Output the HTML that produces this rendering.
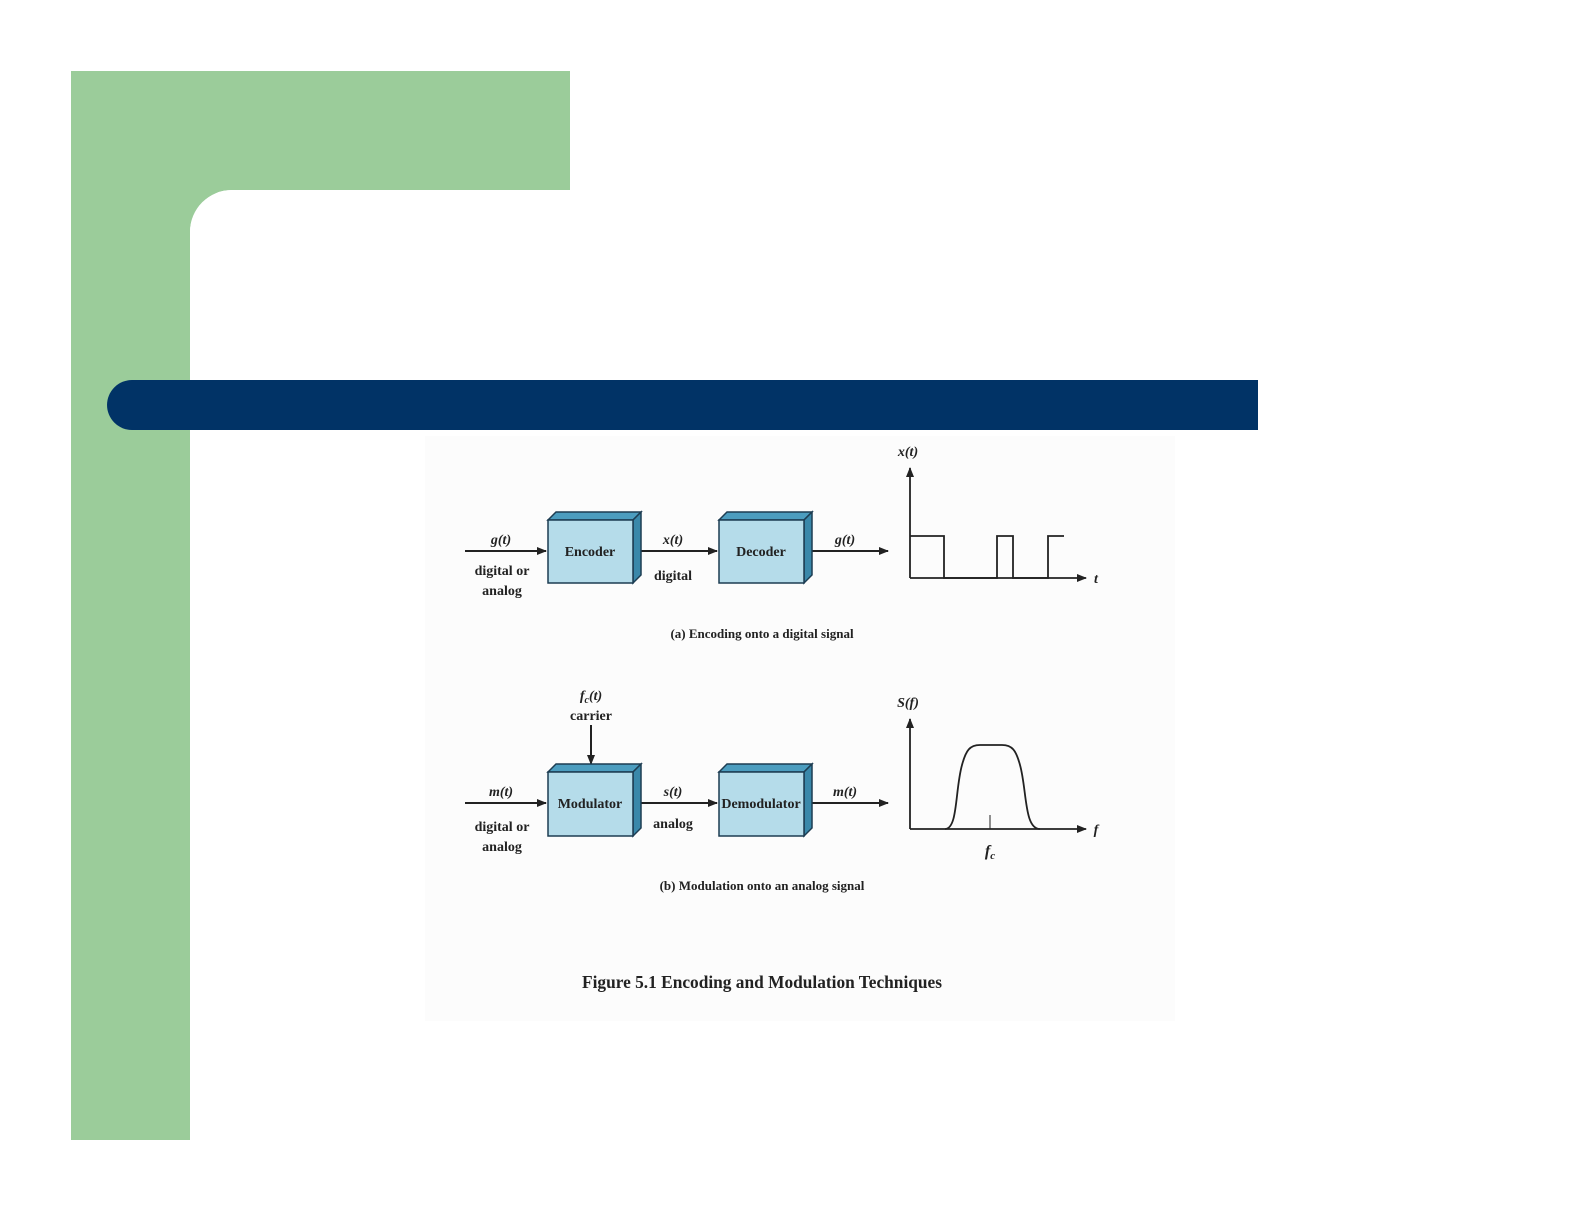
<!DOCTYPE html>
<html><head><meta charset="utf-8"><style>
html,body{margin:0;padding:0;background:#fff;}
svg{display:block;}
text{font-family:"Liberation Serif",serif;font-weight:bold;fill:#222;}
</style></head><body>
<svg width="1585" height="1225" viewBox="0 0 1585 1225" xmlns="http://www.w3.org/2000/svg">
<defs>
<marker id="ah" markerWidth="10" markerHeight="8" refX="9" refY="4" orient="auto" markerUnits="userSpaceOnUse">
<path d="M0,0 L10,4 L0,8 Z" fill="#222"/></marker>
</defs>
<rect x="71" y="71" width="499" height="119" fill="#9bcc9a"/>
<rect x="71" y="71" width="119" height="1069" fill="#9bcc9a"/>
<path d="M190,190 L232,190 A42,42 0 0 0 190,232 Z" fill="#9bcc9a"/>
<path d="M232,190 A42,42 0 0 0 190,232 L190,240 L240,240 L240,190 Z" fill="#fff"/>
<path d="M132,380 L1258,380 L1258,430 L132,430 A25,25 0 0 1 132,380 Z" fill="#013366"/>
<rect x="425" y="436" width="750" height="585" fill="#fcfcfc"/>

<g stroke="#222" stroke-width="2" fill="none">
<line x1="465" y1="551" x2="546" y2="551" marker-end="url(#ah)"/>
<line x1="641" y1="551" x2="717" y2="551" marker-end="url(#ah)"/>
<line x1="812" y1="551" x2="888" y2="551" marker-end="url(#ah)"/>
<line x1="465" y1="803" x2="546" y2="803" marker-end="url(#ah)"/>
<line x1="641" y1="803" x2="717" y2="803" marker-end="url(#ah)"/>
<line x1="812" y1="803" x2="888" y2="803" marker-end="url(#ah)"/>
<line x1="591" y1="725" x2="591" y2="764" marker-end="url(#ah)"/>
</g>

<g stroke="#1d3d52" stroke-width="1.5">
<g>
<polygon points="548,520 556,512 641,512 633,520" fill="#4c9dbf"/>
<polygon points="633,520 641,512 641,575 633,583" fill="#3a88aa"/>
<rect x="548" y="520" width="85" height="63" fill="#b5dcea"/>
</g>
<g>
<polygon points="719,520 727,512 812,512 804,520" fill="#4c9dbf"/>
<polygon points="804,520 812,512 812,575 804,583" fill="#3a88aa"/>
<rect x="719" y="520" width="85" height="63" fill="#b5dcea"/>
</g>
<g>
<polygon points="548,772 556,764 641,764 633,772" fill="#4c9dbf"/>
<polygon points="633,772 641,764 641,828 633,836" fill="#3a88aa"/>
<rect x="548" y="772" width="85" height="64" fill="#b5dcea"/>
</g>
<g>
<polygon points="719,772 727,764 812,764 804,772" fill="#4c9dbf"/>
<polygon points="804,772 812,764 812,828 804,836" fill="#3a88aa"/>
<rect x="719" y="772" width="85" height="64" fill="#b5dcea"/>
</g>
</g>

<g font-size="14" text-anchor="middle">
<text x="590" y="556">Encoder</text>
<text x="761" y="556">Decoder</text>
<text x="590" y="808">Modulator</text>
<text x="761" y="808">Demodulator</text>
<text x="501" y="544" font-style="italic">g(t)</text>
<text x="502" y="575">digital or</text>
<text x="502" y="595">analog</text>
<text x="673" y="544" font-style="italic">x(t)</text>
<text x="673" y="580">digital</text>
<text x="845" y="544" font-style="italic">g(t)</text>
<text x="501" y="796" font-style="italic">m(t)</text>
<text x="502" y="831">digital or</text>
<text x="502" y="851">analog</text>
<text x="673" y="796" font-style="italic">s(t)</text>
<text x="673" y="828">analog</text>
<text x="845" y="796" font-style="italic">m(t)</text>
<text x="591" y="700" font-style="italic">f<tspan font-size="10" dy="3">c</tspan><tspan dy="-3">(t)</tspan></text>
<text x="591" y="720">carrier</text>
<text x="908" y="456" font-style="italic">x(t)</text>
<text x="908" y="707" font-style="italic">S(f)</text>
<text x="1096" y="583" font-style="italic">t</text>
<text x="1096" y="834" font-style="italic">f</text>
<text x="990" y="856" font-style="italic" font-size="16">f<tspan font-size="11" dy="3">c</tspan></text>
<text x="762" y="638" font-size="13">(a) Encoding onto a digital signal</text>
<text x="762" y="890" font-size="13">(b) Modulation onto an analog signal</text>
<text x="762" y="988" font-size="18" textLength="360" lengthAdjust="spacingAndGlyphs">Figure 5.1  Encoding and Modulation Techniques</text>
</g>

<g stroke="#222" stroke-width="1.8" fill="none">
<line x1="910" y1="578" x2="910" y2="468" marker-end="url(#ah)"/>
<line x1="910" y1="578" x2="1086" y2="578" marker-end="url(#ah)"/>
<polyline points="910,536 944,536 944,578 997,578 997,536 1013,536 1013,578 1048,578 1048,536 1064,536"/>
<line x1="910" y1="829" x2="910" y2="719" marker-end="url(#ah)"/>
<line x1="910" y1="829" x2="1086" y2="829" marker-end="url(#ah)"/>
<path d="M945,829 C958,829 955,790 962,765 C966,750 970,745 980,745 L1002,745 C1012,745 1016,750 1020,765 C1027,790 1024,829 1040,829"/>
<line x1="990" y1="815" x2="990" y2="829" stroke-width="1"/>
</g>
</svg>
</body></html>
